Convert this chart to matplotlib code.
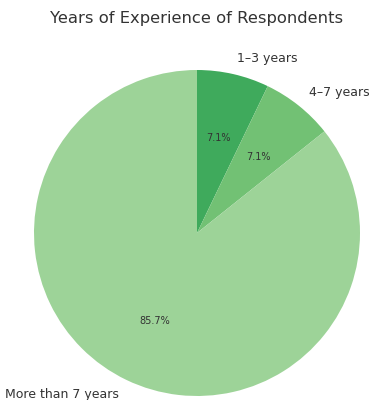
import matplotlib.pyplot as plt

# Data
labels = ["1\u20133 years", "4\u20137 years", "More than 7 years"]
counts = [1, 1, 12]
colors = ["#3faa5c", "#72c174", "#9dd398"]

txt = "#333333"

fig = plt.figure(figsize=(3.69, 4.0), dpi=100)
ax = fig.add_axes([0, 0, 1, 1])

wedges, texts, autotexts = ax.pie(
    counts, labels=labels, colors=colors, startangle=90, counterclock=False,
    autopct="%1.1f%%", pctdistance=0.6, labeldistance=1.1,
    textprops={"color": txt, "fontsize": 9},
)
for t in autotexts:
    t.set_fontsize(7)

# place the pie: center at (197, 233) px, radius 163 px
ax.set_aspect("auto")
ax.set_xlim(-197 / 163, (369 - 197) / 163)
ax.set_ylim(-(400 - 233) / 163, 233 / 163)
ax.axis("off")

fig.text(197 / 369, 1 - 18 / 400, "Years of Experience of Respondents",
         ha="center", va="center", fontsize=11.8, color=txt)

fig.savefig("out.png", dpi=100)
